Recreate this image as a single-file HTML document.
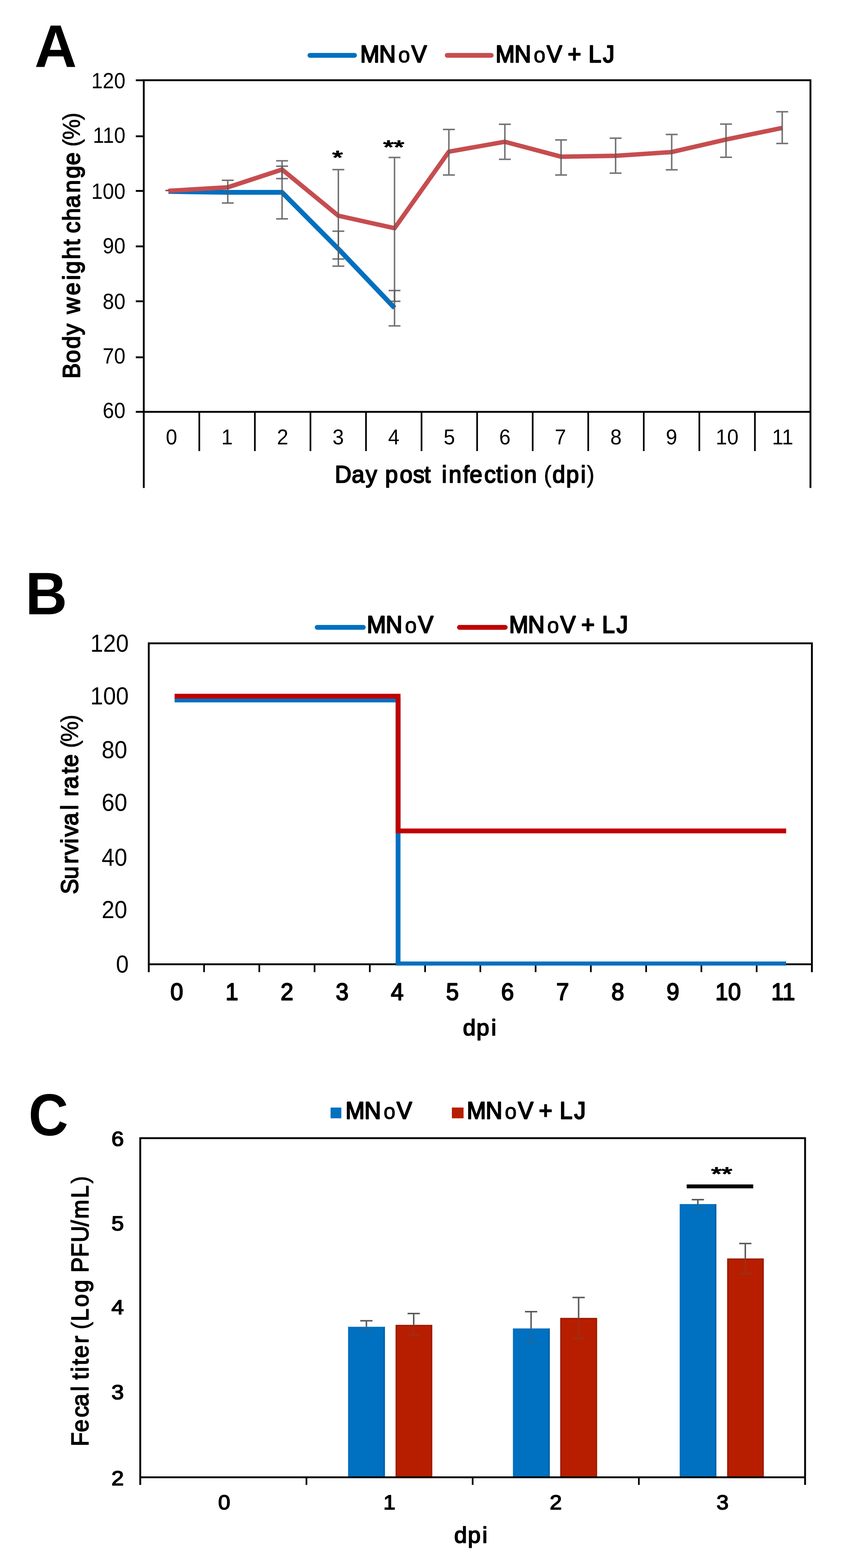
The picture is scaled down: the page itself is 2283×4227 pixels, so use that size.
<!DOCTYPE html>
<html lang="en">
<head>
<meta charset="utf-8">
<title>MNoV and MNoV + LJ: body weight change, survival rate and fecal titer</title>
<style>
html,body{margin:0;padding:0;background:#fff;}
body{width:2283px;height:4227px;overflow:hidden;}
svg{display:block;}
svg text{font-family:"Liberation Sans",Arial,Helvetica,sans-serif;fill:#000;}
svg text.sb{stroke:#000;stroke-width:2.6px;stroke-linejoin:round;}
svg text.sb tspan.lt{stroke-width:1px;}
svg text.s2{stroke-width:2.2px;}
svg text.s3{stroke-width:3.1px;}
svg text.s3 tspan{stroke-width:1.6px;}
</style>
</head>
<body>
<svg width="2283" height="4227" viewBox="0 0 2283 4227">
<rect x="0" y="0" width="2283" height="4227" fill="#fff"/>
<g id="figure">
<g id="panelA">
<text transform="translate(93 180) scale(1 1.02)" font-size="158" text-anchor="start" font-weight="bold" >A</text>
<path d="M835.5 149.2H955.5" stroke="#0070C0" stroke-width="13" stroke-linecap="round"/>
<text transform="translate(975.3 168) scale(1 1.04)" font-size="62" class="sb s3" x="-4.3 46.7 98.3 133.7">MN<tspan font-size="57">o</tspan>V</text>
<path d="M1205.5 149.2H1324" stroke="#C64D4F" stroke-width="13" stroke-linecap="round"/>
<text transform="translate(1340.1 168) scale(1 1.04)" font-size="62" class="sb s3" x="-4.3 46.7 98.3 133.7 153.7 190.1 210.1 246.1 285.2">MN<tspan font-size="57">o</tspan>V + LJ</text>
<path d="M387.5 1315.5V216.3H2184.5V1315.5M387.5 1110.2H2184.5" stroke="#000" stroke-width="5" fill="none" stroke-linejoin="miter"/>
<line x1="366" y1="216.4" x2="387.5" y2="216.4" stroke="#000" stroke-width="5" />
<text transform="translate(338 237.9) scale(1 1.08)" font-size="55" text-anchor="end" >120</text>
<line x1="366" y1="367.4" x2="387.5" y2="367.4" stroke="#000" stroke-width="5" />
<text transform="translate(338 384.5) scale(1 1.08)" font-size="55" text-anchor="end" >110</text>
<line x1="366" y1="514.7" x2="387.5" y2="514.7" stroke="#000" stroke-width="5" />
<text transform="translate(338 535.6) scale(1 1.08)" font-size="55" text-anchor="end" >100</text>
<line x1="366" y1="664.2" x2="387.5" y2="664.2" stroke="#000" stroke-width="5" />
<text transform="translate(338 682.5) scale(1 1.08)" font-size="55" text-anchor="end" >90</text>
<line x1="366" y1="812.2" x2="387.5" y2="812.2" stroke="#000" stroke-width="5" />
<text transform="translate(338 832.9) scale(1 1.08)" font-size="55" text-anchor="end" >80</text>
<line x1="366" y1="963.2" x2="387.5" y2="963.2" stroke="#000" stroke-width="5" />
<text transform="translate(338 980) scale(1 1.08)" font-size="55" text-anchor="end" >70</text>
<line x1="366" y1="1110.2" x2="387.5" y2="1110.2" stroke="#000" stroke-width="5" />
<text transform="translate(338 1126.5) scale(1 1.08)" font-size="55" text-anchor="end" >60</text>
<line x1="537.2" y1="1110.2" x2="537.2" y2="1216" stroke="#000" stroke-width="4.5" />
<line x1="687.0" y1="1110.2" x2="687.0" y2="1216" stroke="#000" stroke-width="4.5" />
<line x1="836.8" y1="1110.2" x2="836.8" y2="1216" stroke="#000" stroke-width="4.5" />
<line x1="986.5" y1="1110.2" x2="986.5" y2="1216" stroke="#000" stroke-width="4.5" />
<line x1="1136.2" y1="1110.2" x2="1136.2" y2="1216" stroke="#000" stroke-width="4.5" />
<line x1="1286.0" y1="1110.2" x2="1286.0" y2="1216" stroke="#000" stroke-width="4.5" />
<line x1="1435.8" y1="1110.2" x2="1435.8" y2="1216" stroke="#000" stroke-width="4.5" />
<line x1="1585.5" y1="1110.2" x2="1585.5" y2="1216" stroke="#000" stroke-width="4.5" />
<line x1="1735.2" y1="1110.2" x2="1735.2" y2="1216" stroke="#000" stroke-width="4.5" />
<line x1="1885.0" y1="1110.2" x2="1885.0" y2="1216" stroke="#000" stroke-width="4.5" />
<line x1="2034.8" y1="1110.2" x2="2034.8" y2="1216" stroke="#000" stroke-width="4.5" />
<text transform="translate(462.4 1197.5) scale(1 1.05)" font-size="55" text-anchor="middle" >0</text>
<text transform="translate(612.1 1197.5) scale(1 1.05)" font-size="55" text-anchor="middle" >1</text>
<text transform="translate(761.9 1197.5) scale(1 1.05)" font-size="55" text-anchor="middle" >2</text>
<text transform="translate(911.6 1197.5) scale(1 1.05)" font-size="55" text-anchor="middle" >3</text>
<text transform="translate(1061.4 1197.5) scale(1 1.05)" font-size="55" text-anchor="middle" >4</text>
<text transform="translate(1211.1 1197.5) scale(1 1.05)" font-size="55" text-anchor="middle" >5</text>
<text transform="translate(1360.9 1197.5) scale(1 1.05)" font-size="55" text-anchor="middle" >6</text>
<text transform="translate(1510.6 1197.5) scale(1 1.05)" font-size="55" text-anchor="middle" >7</text>
<text transform="translate(1660.4 1197.5) scale(1 1.05)" font-size="55" text-anchor="middle" >8</text>
<text transform="translate(1810.1 1197.5) scale(1 1.05)" font-size="55" text-anchor="middle" >9</text>
<text transform="translate(1959.9 1197.5) scale(1 1.05)" font-size="55" text-anchor="middle" >10</text>
<text transform="translate(2109.6 1197.5) scale(1 1.05)" font-size="55" text-anchor="middle" >11</text>
<text transform="translate(0 1300.6) scale(1 1.05)" font-size="62" class="sb" x="902.5 948.1 985.5 1028.5 1038.0 1077.6 1113.2 1143.5 1173.3 1190.7 1209.5 1247.7 1265.8 1305.2 1337.5 1357.0 1375.8 1412.6 1459.2 1465.7 1489.1 1525.9 1565.3 1581.8">Day post infection <tspan class="lt">(</tspan>dpi<tspan class="lt">)</tspan></text>
<text transform="translate(215 0) rotate(-90) scale(1 1.05)" font-size="62" class="sb" x="-1020.6 -977.9 -939.9 -903.5 -860.5 -846.2 -796.0 -755.0 -738.1 -699.1 -662.2 -632.5 -628.5 -595.5 -560.3 -519.8 -481.0 -445.2 -398.8 -395.4 -376.6 -324.1">Body weight change <tspan class="lt">(%)</tspan></text>
<polyline points="454,516 613.9,518.6 760.3,518.6 912,671 1063.4,830" fill="none" stroke="#0070C0" stroke-width="13" stroke-linejoin="round" stroke-linecap="butt"/>
<polyline points="454,514.6 613.9,505 760.3,457 912,581.5 1063.4,615.2 1209.9,408.9 1360.8,382.2 1512.3,422.4 1659.3,419.9 1810.5,409.9 1956.9,376.1 2108.4,344.9" fill="none" stroke="#C64D4F" stroke-width="12" stroke-linejoin="round" stroke-linecap="butt"/>
<path d="M446 513.5H456" stroke="#8C4347" stroke-width="4" fill="none"/>
<path d="M613.9 485.9V547.3M597.9 485.9H629.9M597.9 547.3H629.9" stroke="#595959" stroke-width="4" fill="none" opacity="0.85"/>
<path d="M760.3 433.5V481.4M744.3 433.5H776.3M744.3 481.4H776.3" stroke="#595959" stroke-width="4" fill="none" opacity="0.85"/>
<path d="M760.3 448.1V590.1M744.3 448.1H776.3M744.3 590.1H776.3" stroke="#595959" stroke-width="4" fill="none" opacity="0.85"/>
<path d="M912 457.2V698.2M896.0 457.2H928.0M896.0 698.2H928.0" stroke="#595959" stroke-width="4" fill="none" opacity="0.85"/>
<path d="M912 623.3V717.5M896.0 623.3H928.0M896.0 717.5H928.0" stroke="#595959" stroke-width="4" fill="none" opacity="0.85"/>
<path d="M1063.4 424.5V812.2M1047.4 424.5H1079.4M1047.4 812.2H1079.4" stroke="#595959" stroke-width="4" fill="none" opacity="0.85"/>
<path d="M1063.4 783.3V878.6M1047.4 783.3H1079.4M1047.4 878.6H1079.4" stroke="#595959" stroke-width="4" fill="none" opacity="0.85"/>
<path d="M1209.9 349V471.8M1193.9 349H1225.9M1193.9 471.8H1225.9" stroke="#595959" stroke-width="4" fill="none" opacity="0.85"/>
<path d="M1360.8 334.9V429.5M1344.8 334.9H1376.8M1344.8 429.5H1376.8" stroke="#595959" stroke-width="4" fill="none" opacity="0.85"/>
<path d="M1512.3 377.2V471.8M1496.3 377.2H1528.3M1496.3 471.8H1528.3" stroke="#595959" stroke-width="4" fill="none" opacity="0.85"/>
<path d="M1659.3 372.4V466.7M1643.3 372.4H1675.3M1643.3 466.7H1675.3" stroke="#595959" stroke-width="4" fill="none" opacity="0.85"/>
<path d="M1810.5 362.6V457.7M1794.5 362.6H1826.5M1794.5 457.7H1826.5" stroke="#595959" stroke-width="4" fill="none" opacity="0.85"/>
<path d="M1956.9 334.4V424M1940.9 334.4H1972.9M1940.9 424H1972.9" stroke="#595959" stroke-width="4" fill="none" opacity="0.85"/>
<path d="M2108.4 301.2V386.7M2092.4 301.2H2124.4M2092.4 386.7H2124.4" stroke="#595959" stroke-width="4" fill="none" opacity="0.85"/>
<text transform="translate(909.9 442.3) scale(1.45 1)" font-size="50" text-anchor="middle" class="sb s2" >*</text>
<text transform="translate(1061.3 413.9) scale(1.45 1)" font-size="50" text-anchor="middle" class="sb s2" >**</text>
</g>
<g id="panelB">
<text transform="translate(68.5 1656) scale(1 1.03)" font-size="156" text-anchor="start" font-weight="bold" >B</text>
<path d="M855 1691.2H979.2" stroke="#0070C0" stroke-width="13" stroke-linecap="round"/>
<text transform="translate(993.1 1706.4) scale(1 1.04)" font-size="62" class="sb s3" x="-4.3 46.7 98.3 133.7">MN<tspan font-size="57">o</tspan>V</text>
<path d="M1238.5 1691.2H1361.7" stroke="#C00000" stroke-width="13" stroke-linecap="round"/>
<text transform="translate(1376.6 1706.4) scale(1 1.04)" font-size="62" class="sb s3" x="-4.3 46.7 98.3 133.7 153.7 190.1 210.1 246.1 285.2">MN<tspan font-size="57">o</tspan>V + LJ</text>
<path d="M401 2620.7V1734.2H2188.4V2620.7M401 2599.5H2188.4" stroke="#000" stroke-width="5" fill="none"/>
<line x1="550.0" y1="2599.5" x2="550.0" y2="2620.7" stroke="#000" stroke-width="4.5" />
<line x1="698.9" y1="2599.5" x2="698.9" y2="2620.7" stroke="#000" stroke-width="4.5" />
<line x1="847.9" y1="2599.5" x2="847.9" y2="2620.7" stroke="#000" stroke-width="4.5" />
<line x1="996.8" y1="2599.5" x2="996.8" y2="2620.7" stroke="#000" stroke-width="4.5" />
<line x1="1145.8" y1="2599.5" x2="1145.8" y2="2620.7" stroke="#000" stroke-width="4.5" />
<line x1="1294.7" y1="2599.5" x2="1294.7" y2="2620.7" stroke="#000" stroke-width="4.5" />
<line x1="1443.7" y1="2599.5" x2="1443.7" y2="2620.7" stroke="#000" stroke-width="4.5" />
<line x1="1592.6" y1="2599.5" x2="1592.6" y2="2620.7" stroke="#000" stroke-width="4.5" />
<line x1="1741.6" y1="2599.5" x2="1741.6" y2="2620.7" stroke="#000" stroke-width="4.5" />
<line x1="1890.5" y1="2599.5" x2="1890.5" y2="2620.7" stroke="#000" stroke-width="4.5" />
<line x1="2039.5" y1="2599.5" x2="2039.5" y2="2620.7" stroke="#000" stroke-width="4.5" />
<text transform="translate(347 1756.5) scale(1 1.08)" font-size="62" text-anchor="end" >120</text>
<text transform="translate(347 1898.7) scale(1 1.08)" font-size="62" text-anchor="end" >100</text>
<text transform="translate(343 2043.9) scale(1 1.08)" font-size="62" text-anchor="end" >80</text>
<text transform="translate(343 2186.3) scale(1 1.08)" font-size="62" text-anchor="end" >60</text>
<text transform="translate(343 2333.5) scale(1 1.08)" font-size="62" text-anchor="end" >40</text>
<text transform="translate(343 2475.2) scale(1 1.08)" font-size="62" text-anchor="end" >20</text>
<text transform="translate(347 2621.9) scale(1 1.08)" font-size="62" text-anchor="end" >0</text>
<text transform="translate(476.4 2696.3) scale(0.97 1.01)" font-size="64" text-anchor="middle" class="sb" >0</text>
<text transform="translate(625.0 2696.3) scale(0.97 1.01)" font-size="64" text-anchor="middle" class="sb" >1</text>
<text transform="translate(773.6 2696.3) scale(0.97 1.01)" font-size="64" text-anchor="middle" class="sb" >2</text>
<text transform="translate(922.2 2696.3) scale(0.97 1.01)" font-size="64" text-anchor="middle" class="sb" >3</text>
<text transform="translate(1070.8 2696.3) scale(0.97 1.01)" font-size="64" text-anchor="middle" class="sb" >4</text>
<text transform="translate(1219.4 2696.3) scale(0.97 1.01)" font-size="64" text-anchor="middle" class="sb" >5</text>
<text transform="translate(1368.0 2696.3) scale(0.97 1.01)" font-size="64" text-anchor="middle" class="sb" >6</text>
<text transform="translate(1516.6 2696.3) scale(0.97 1.01)" font-size="64" text-anchor="middle" class="sb" >7</text>
<text transform="translate(1665.2 2696.3) scale(0.97 1.01)" font-size="64" text-anchor="middle" class="sb" >8</text>
<text transform="translate(1813.8 2696.3) scale(0.97 1.01)" font-size="64" text-anchor="middle" class="sb" >9</text>
<text transform="translate(1962.4 2696.3) scale(0.97 1.01)" font-size="64" text-anchor="middle" class="sb" >10</text>
<text transform="translate(2111.0 2696.3) scale(0.97 1.01)" font-size="64" text-anchor="middle" class="sb" >11</text>
<text transform="translate(0 2791) scale(1 1.0)" font-size="62" class="sb" x="1247.7 1284.3 1323.9">dpi</text>
<text transform="translate(210.4 0) rotate(-90) scale(1 1.05)" font-size="62" class="sb" x="-2410.5 -2370.1 -2328.4 -2305.3 -2273.9 -2255.8 -2225.4 -2183.6 -2157.8 -2146.9 -2126.4 -2086.1 -2067.7 -2021.3 -2016.5 -1999.5 -1947.0">Survival rate <tspan class="lt">(%)</tspan></text>
<path d="M470.6 1887H1073V2597" fill="none" stroke="#0070C0" stroke-width="13"/>
<path d="M1066.5 2597.5H2119" fill="none" stroke="#0070C0" stroke-width="11"/>
<path d="M470.6 1876.8H1073V2240H2119" fill="none" stroke="#C00000" stroke-width="13"/>
</g>
<g id="panelC">
<text transform="translate(77 3059.5) scale(0.95 1.02)" font-size="156" text-anchor="start" font-weight="bold" >C</text>
<rect x="891" y="2985.7" width="29" height="29" fill="#0070C0"/>
<text transform="translate(935.6 3016.4) scale(1 1.04)" font-size="62" class="sb s3" x="-4.3 46.7 98.3 133.7">MN<tspan font-size="57">o</tspan>V</text>
<rect x="1218" y="2985.7" width="31.5" height="29" fill="#B71E00"/>
<text transform="translate(1262.5 3016.4) scale(1 1.04)" font-size="62" class="sb s3" x="-4.3 46.7 98.3 133.7 153.7 190.1 210.1 246.1 285.2">MN<tspan font-size="57">o</tspan>V + LJ</text>
<rect x="938.2" y="3576.7" width="99.4" height="405.7" fill="#0070C0"/>
<rect x="1033.6" y="3576.7" width="4" height="405.7" fill="#000" opacity="0.13"/>
<rect x="1066.2" y="3571.5" width="99.0" height="410.9" fill="#B71E00"/>
<path d="M1068.2 3982.4V3573.5H1163.2V3982.4" fill="none" stroke="#000" stroke-width="4" opacity="0.13"/>
<rect x="1382.5" y="3581.2" width="99.5" height="401.2" fill="#0070C0"/>
<rect x="1478" y="3581.2" width="4" height="401.2" fill="#000" opacity="0.13"/>
<rect x="1510" y="3552.7" width="99.5" height="429.7" fill="#B71E00"/>
<path d="M1512 3982.4V3554.7H1607.5V3982.4" fill="none" stroke="#000" stroke-width="4" opacity="0.13"/>
<rect x="1832" y="3245.9" width="99" height="736.5" fill="#0070C0"/>
<rect x="1927" y="3245.9" width="4" height="736.5" fill="#000" opacity="0.13"/>
<rect x="1959.9" y="3392.5" width="98.9" height="589.9" fill="#B71E00"/>
<path d="M1961.9 3982.4V3394.5H2056.8V3982.4" fill="none" stroke="#000" stroke-width="4" opacity="0.13"/>
<path d="M987.6 3560.5V3576.7M971.1 3560.5H1004.1" stroke="#595959" stroke-width="4" fill="none"/>
<path d="M987.6 3576.7V3588.3M971.1 3588.3H1004.1" stroke="#595959" stroke-width="4" fill="none" opacity="0.28"/>
<path d="M1115.1 3541.1V3571.5M1098.6 3541.1H1131.6" stroke="#595959" stroke-width="4" fill="none"/>
<path d="M1115.1 3571.5V3598.7M1098.6 3598.7H1131.6" stroke="#595959" stroke-width="4" fill="none" opacity="0.28"/>
<path d="M1431.5 3535.9V3581.2M1415.0 3535.9H1448.0" stroke="#595959" stroke-width="4" fill="none"/>
<path d="M1431.5 3581.2V3619.4M1415.0 3619.4H1448.0" stroke="#595959" stroke-width="4" fill="none" opacity="0.28"/>
<path d="M1559.6 3497.7V3552.7M1543.1 3497.7H1576.1" stroke="#595959" stroke-width="4" fill="none"/>
<path d="M1559.6 3552.7V3607.7M1543.1 3607.7H1576.1" stroke="#595959" stroke-width="4" fill="none" opacity="0.28"/>
<path d="M1881 3234.1V3245.9M1864.5 3234.1H1897.5" stroke="#595959" stroke-width="4" fill="none"/>
<path d="M1881 3245.9V3259M1864.5 3259H1897.5" stroke="#595959" stroke-width="4" fill="none" opacity="0.28"/>
<path d="M2008.9 3352.3V3392.5M1992.4 3352.3H2025.4" stroke="#595959" stroke-width="4" fill="none"/>
<path d="M2008.9 3392.5V3433.2M1992.4 3433.2H2025.4" stroke="#595959" stroke-width="4" fill="none" opacity="0.28"/>
<path d="M378 4003V3068.2H2170V4003M378 3982.4H2170" stroke="#000" stroke-width="5" fill="none"/>
<line x1="826.0" y1="3982.4" x2="826.0" y2="4003" stroke="#000" stroke-width="4.5" />
<line x1="1274.0" y1="3982.4" x2="1274.0" y2="4003" stroke="#000" stroke-width="4.5" />
<line x1="1722.0" y1="3982.4" x2="1722.0" y2="4003" stroke="#000" stroke-width="4.5" />
<text transform="translate(334 3088.5) scale(1.08 1.0)" font-size="56" text-anchor="end" class="sb s2" >6</text>
<text transform="translate(334 3316.7) scale(1.08 1.0)" font-size="56" text-anchor="end" class="sb s2" >5</text>
<text transform="translate(334 3543.2) scale(1.08 1.0)" font-size="56" text-anchor="end" class="sb s2" >4</text>
<text transform="translate(334 3771.5) scale(1.08 1.0)" font-size="56" text-anchor="end" class="sb s2" >3</text>
<text transform="translate(334 4003.7) scale(1.08 1.0)" font-size="56" text-anchor="end" class="sb s2" >2</text>
<text transform="translate(604.3 4068.6) scale(1.05 1.0)" font-size="56" text-anchor="middle" class="sb s2" >0</text>
<text transform="translate(1049.7 4068.6) scale(1.05 1.0)" font-size="56" text-anchor="middle" class="sb s2" >1</text>
<text transform="translate(1498 4068.6) scale(1.05 1.0)" font-size="56" text-anchor="middle" class="sb s2" >2</text>
<text transform="translate(1947.7 4068.6) scale(1.05 1.0)" font-size="56" text-anchor="middle" class="sb s2" >3</text>
<text transform="translate(0 4158.8) scale(1 1.0)" font-size="62" class="sb" x="1224.2 1261.1 1300.0">dpi</text>
<text transform="translate(238.2 0) rotate(-90) scale(1 1.05)" font-size="62" class="sb s2" x="-3898.9 -3860.8 -3820.9 -3791.4 -3750.5 -3724.7 -3718.9 -3698.5 -3680.2 -3660.8 -3621.6 -3585.8 -3584.1 -3562.0 -3523.3 -3484.6 -3439.6 -3430.7 -3389.1 -3349.2 -3306.6 -3285.8 -3230.1 -3190.7">Fecal titer <tspan class="lt">(</tspan>Log PFU/mL<tspan class="lt">)</tspan></text>
<line x1="1850.9" y1="3198.3" x2="2030.3" y2="3198.3" stroke="#000" stroke-width="10.5" />
<text transform="translate(1945.2 3181.8) scale(1.45 1)" font-size="50" text-anchor="middle" class="sb s2" >**</text>
</g>
</g>
</svg>
</body>
</html>
